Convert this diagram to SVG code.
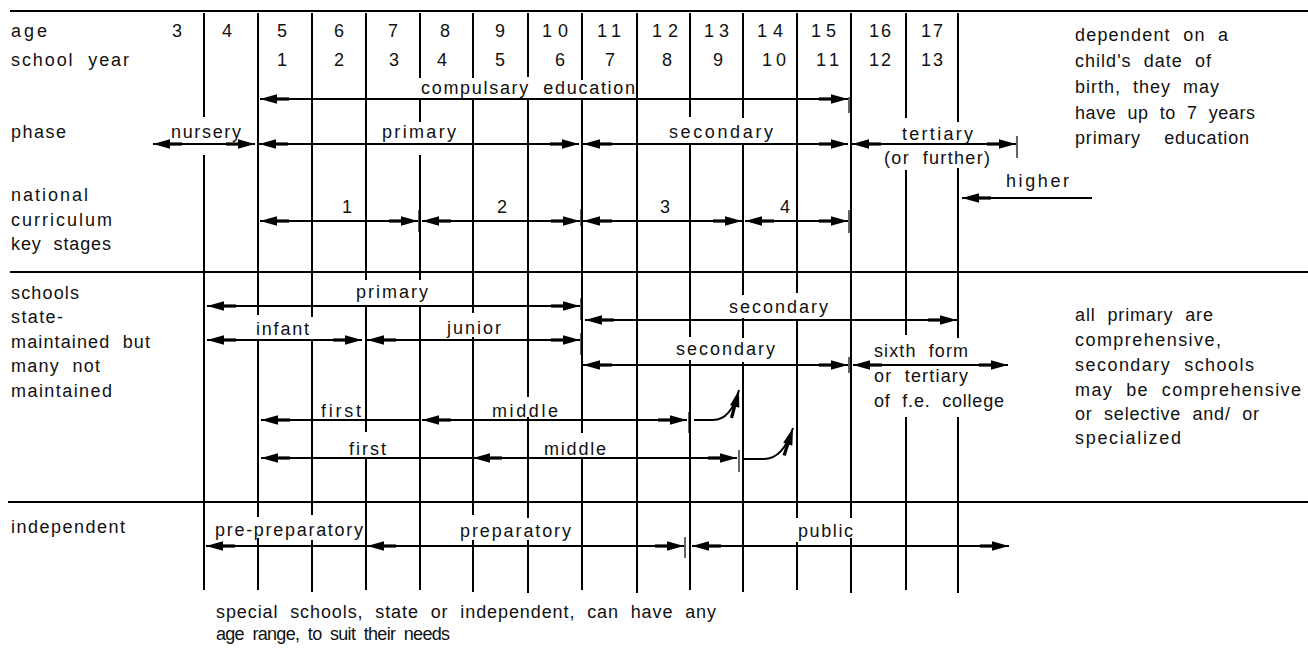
<svg xmlns="http://www.w3.org/2000/svg" width="1308" height="649" viewBox="0 0 1308 649">
<defs>
<style>
text{font-family:"Liberation Sans",Arial,Helvetica,sans-serif;font-size:18px;fill:#111;white-space:pre}
.m{text-anchor:middle}
.grid{stroke:#000;stroke-width:2;fill:none}
.rule{stroke:#000;stroke-width:2.2;fill:none}
.arr{stroke:#000;stroke-width:2;fill:none}
.both{marker-start:url(#ah);marker-end:url(#ah)}
.st{marker-start:url(#ah)}
.en{marker-end:url(#ah)}
.tick{stroke:#000;stroke-width:1.2;fill:none}
</style>
<marker id="ah" viewBox="-14 -6 30 12" refX="16" refY="0" markerWidth="30" markerHeight="12" markerUnits="userSpaceOnUse" orient="auto-start-reverse" overflow="visible">
<path d="M16,0 L-1,-4.8 L-1,4.8 Z" fill="#000"/>
<rect x="-13" y="-1.6" width="13" height="3.2" fill="#000"/>
</marker>
</defs>
<rect width="1308" height="649" fill="#fff"/>
<g id="grid">
<path class="rule" d="M10 11H1308M10 272H1308M8 502H1308"/>
<path class="grid" d="M204 13V117M204 155V590
M258 13V315M258 340V517M258 538V590
M312 13V317M312 340V515M312 540V592
M366 13V280M366 305V432M366 458V590
M420 13V78M420 100V122M420 155V280M420 305V590
M473 13V78M473 100V313M473 337V515M473 540V592
M528 13V77M528 100V397M528 417V518M528 540V593
M582 13V80M582 100V433M582 458V590
M637 13V593
M690 13V117M690 143V337M690 360V590
M743 13V118M743 143V295M743 318V338M743 362V592
M797 13V293M797 320V518M797 542V590
M851 13V518M851 538V593
M906 13V118M906 170V335M906 417V590
M958 13V122M958 168V338M958 417V593"/>
</g>
<g id="connectors">
<line class="arr both" x1="260" y1="99" x2="848" y2="99"/>
<line class="arr both" x1="153" y1="144" x2="255" y2="144"/>
<line class="arr both" x1="259" y1="144" x2="579" y2="144"/>
<line class="arr both" x1="583" y1="144" x2="848" y2="144"/>
<line class="arr both" x1="852" y1="144" x2="1016" y2="144"/>
<line class="arr en" x1="1092" y1="198" x2="962" y2="198"/>
<line class="arr both" x1="260" y1="221" x2="418" y2="221"/>
<line class="arr both" x1="422" y1="221" x2="580" y2="221"/>
<line class="arr both" x1="583" y1="221" x2="742" y2="221"/>
<line class="arr both" x1="745" y1="221" x2="848" y2="221"/>
<line class="arr both" x1="207" y1="306" x2="580" y2="306"/>
<line class="arr both" x1="585" y1="320" x2="957" y2="320"/>
<line class="arr both" x1="207" y1="340" x2="362" y2="340"/>
<line class="arr both" x1="367" y1="340" x2="580" y2="340"/>
<line class="arr both" x1="583" y1="365" x2="848" y2="365"/>
<line class="arr both" x1="853" y1="365" x2="1008" y2="365"/>
<line class="arr st" x1="261" y1="420" x2="420" y2="420"/>
<line class="arr both" x1="422" y1="420" x2="687" y2="420"/>
<path class="arr en" d="M694 420L713 420Q731 420 739 390"/>
<line class="arr st" x1="261" y1="458" x2="472" y2="458"/>
<line class="arr both" x1="473" y1="458" x2="737" y2="458"/>
<path class="arr en" d="M744 459L764 459Q783 459 793 428"/>
<line class="arr st" x1="206" y1="546" x2="366" y2="546"/>
<line class="arr both" x1="367" y1="546" x2="684" y2="546"/>
<line class="arr both" x1="692" y1="546" x2="1009" y2="546"/>
<path class="tick" d="M849 97V113M1017 136V158M419 210V232M581 209V226M849 210V233M581 298V320M581 333V355M958 310V332M849 357V373M689 412V433M739 450V472M685 537V558"/>
</g>
<g id="row-labels">
<text x="11" y="37" textLength="36" lengthAdjust="spacing">age</text>
<text x="11" y="66" textLength="118" lengthAdjust="spacing">school  year</text>
<text x="11" y="138" textLength="55" lengthAdjust="spacing">phase</text>
<text x="11" y="201" textLength="77" lengthAdjust="spacing">national</text>
<text x="11" y="226" textLength="101" lengthAdjust="spacing">curriculum</text>
<text x="11" y="250" textLength="100" lengthAdjust="spacing">key  stages</text>
<text x="11" y="299" textLength="68" lengthAdjust="spacing">schools</text>
<text x="11" y="323" textLength="52" lengthAdjust="spacing">state-</text>
<text x="11" y="348" textLength="139" lengthAdjust="spacing">maintained  but</text>
<text x="11" y="372" textLength="89" lengthAdjust="spacing">many  not</text>
<text x="11" y="397" textLength="101" lengthAdjust="spacing">maintained</text>
<text x="11" y="533" textLength="114" lengthAdjust="spacing">independent</text>
</g>
<g id="age-numbers">
<text class="m" x="177" y="37">3</text>
<text class="m" x="227" y="37">4</text>
<text class="m" x="282" y="37">5</text>
<text class="m" x="339" y="37">6</text>
<text class="m" x="393" y="37">7</text>
<text class="m" x="445" y="37">8</text>
<text class="m" x="500" y="37">9</text>
<text x="542" y="37" textLength="26" lengthAdjust="spacing">10</text>
<text x="597" y="37" textLength="24" lengthAdjust="spacing">11</text>
<text x="652" y="37" textLength="26" lengthAdjust="spacing">12</text>
<text x="704" y="37" textLength="25" lengthAdjust="spacing">13</text>
<text x="757" y="37" textLength="26" lengthAdjust="spacing">14</text>
<text x="811" y="37" textLength="25" lengthAdjust="spacing">15</text>
<text x="869" y="37" textLength="22" lengthAdjust="spacing">16</text>
<text x="921" y="37" textLength="22" lengthAdjust="spacing">17</text>
</g>
<g id="school-year-numbers">
<text class="m" x="282" y="66">1</text>
<text class="m" x="339" y="66">2</text>
<text class="m" x="394" y="66">3</text>
<text class="m" x="442" y="66">4</text>
<text class="m" x="500" y="66">5</text>
<text class="m" x="560" y="66">6</text>
<text class="m" x="610" y="66">7</text>
<text class="m" x="667" y="66">8</text>
<text class="m" x="718" y="66">9</text>
<text x="762" y="66" textLength="24" lengthAdjust="spacing">10</text>
<text x="816" y="66" textLength="23" lengthAdjust="spacing">11</text>
<text x="869" y="66" textLength="22" lengthAdjust="spacing">12</text>
<text x="921" y="66" textLength="22" lengthAdjust="spacing">13</text>
</g>
<g id="compulsory">
<text x="421" y="94" textLength="214" lengthAdjust="spacing">compulsary  education</text>
</g>
<g id="phase-nursery"><text x="171" y="137.5" textLength="70" lengthAdjust="spacing">nursery</text></g>
<g id="phase-primary"><text x="382" y="137.5" textLength="74" lengthAdjust="spacing">primary</text></g>
<g id="phase-secondary"><text x="669" y="137.5" textLength="104" lengthAdjust="spacing">secondary</text></g>
<g id="phase-tertiary">
<text x="902" y="140" textLength="71" lengthAdjust="spacing">tertiary</text>
<text x="884" y="164" textLength="106" lengthAdjust="spacing">(or  further)</text>
</g>
<g id="higher"><text x="1006" y="187" textLength="63" lengthAdjust="spacing">higher</text></g>
<g id="key-stages">
<text class="m" x="347" y="213">1</text>
<text class="m" x="502" y="213">2</text>
<text class="m" x="665" y="213">3</text>
<text class="m" x="785" y="213">4</text>
</g>
<g id="note-birth">
<text x="1075" y="41" textLength="153" lengthAdjust="spacing">dependent  on  a</text>
<text x="1075" y="67" textLength="136" lengthAdjust="spacing">child's  date  of</text>
<text x="1075" y="93" textLength="144" lengthAdjust="spacing">birth,  they  may</text>
<text x="1075" y="119" textLength="180" lengthAdjust="spacing">have  up  to  7  years</text>
<text x="1075" y="144" textLength="174" lengthAdjust="spacing">primary    education</text>
</g>
<g id="school-primary"><text x="356" y="298" textLength="72" lengthAdjust="spacing">primary</text></g>
<g id="school-infant"><text x="256" y="335" textLength="53" lengthAdjust="spacing">infant</text></g>
<g id="school-junior"><text x="447" y="334" textLength="54" lengthAdjust="spacing">junior</text></g>
<g id="school-secondary-1"><text x="729" y="313" textLength="99" lengthAdjust="spacing">secondary</text></g>
<g id="school-secondary-2"><text x="676" y="355" textLength="99" lengthAdjust="spacing">secondary</text></g>
<g id="sixth-form">
<text x="874" y="357" textLength="94" lengthAdjust="spacing">sixth  form</text>
<text x="874" y="382" textLength="94" lengthAdjust="spacing">or  tertiary</text>
<text x="874" y="407" textLength="130" lengthAdjust="spacing">of  f.e.  college</text>
</g>
<g id="first-1"><text x="321" y="417" textLength="40" lengthAdjust="spacing">first</text></g>
<g id="middle-1"><text x="492" y="417" textLength="66" lengthAdjust="spacing">middle</text></g>
<g id="first-2"><text x="349" y="455" textLength="37" lengthAdjust="spacing">first</text></g>
<g id="middle-2"><text x="544" y="455" textLength="62" lengthAdjust="spacing">middle</text></g>
<g id="note-comprehensive">
<text x="1075" y="321" textLength="138" lengthAdjust="spacing">all  primary  are</text>
<text x="1075" y="346" textLength="146" lengthAdjust="spacing">comprehensive,</text>
<text x="1075" y="371" textLength="179" lengthAdjust="spacing">secondary  schools</text>
<text x="1075" y="396" textLength="226" lengthAdjust="spacing">may  be  comprehensive</text>
<text x="1075" y="420" textLength="184" lengthAdjust="spacing">or  selective  and/  or</text>
<text x="1075" y="444" textLength="106" lengthAdjust="spacing">specialized</text>
</g>
<g id="pre-preparatory"><text x="215" y="536" textLength="148" lengthAdjust="spacing">pre-preparatory</text></g>
<g id="preparatory"><text x="460" y="537" textLength="111" lengthAdjust="spacing">preparatory</text></g>
<g id="public"><text x="798" y="537" textLength="55" lengthAdjust="spacing">public</text></g>
<g id="note-special">
<text x="216" y="618" textLength="500" lengthAdjust="spacing">special  schools,  state  or  independent,  can  have  any</text>
<text x="216" y="640" textLength="234" lengthAdjust="spacing">age  range,  to  suit  their  needs</text>
</g>
</svg>
